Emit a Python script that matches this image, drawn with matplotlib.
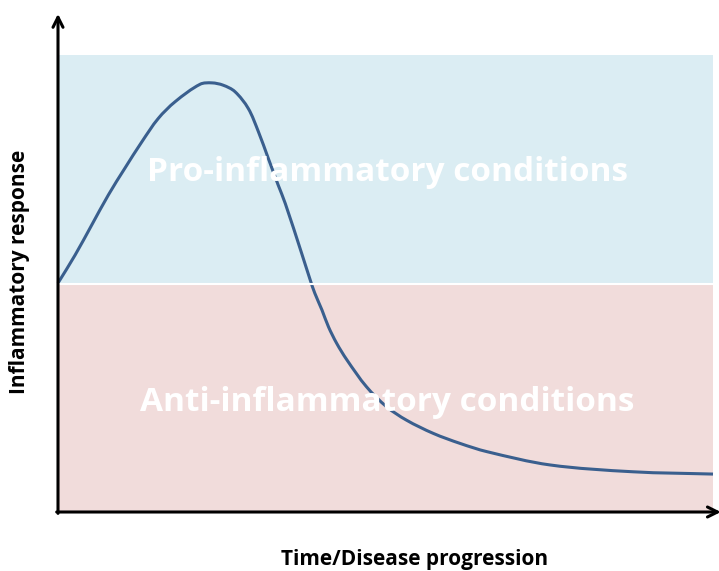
import numpy as np
import matplotlib.pyplot as plt
from matplotlib.path import Path
from matplotlib.patches import PathPatch

# curve (time, response), both on a 0-100 scale
time = [0, 2.6, 5.15, 7.7, 10.2, 12.8, 15.3, 17.9, 21.7, 23.5, 25.2,
        27.0, 29.05, 30.6, 32.1, 33.6, 34.7, 37.2, 38.5, 39.2, 40.3, 41.3,
        42.55, 44.1, 47.1, 50.2, 53.2, 57.3, 61.4, 65.5, 75.1, 87.8, 100]
response = [50.1, 56.2, 62.8, 69.4, 75.2, 81.0, 86.1, 89.8, 93.6, 93.9, 93.4,
            92.0, 88.3, 83.2, 77.4, 71.6, 67.5, 56.6, 50.8, 47.9, 44.2, 40.5,
            36.9, 33.3, 27.4, 23.0, 20.1, 17.2, 15.0, 13.2, 10.3, 8.8, 8.3]

# the two zones
threshold = 50
zone_labels = ["Pro-inflammatory conditions", "Anti-inflammatory conditions"]
zone_colors = ["#dbedf3", "#f1dcdb"]

xlabel = "Time/Disease progression"
ylabel = "Inflammatory response"


def smooth_path(xs, ys):
    """Chord-length Catmull-Rom through the read points, as cubic Bezier pieces."""
    p = np.column_stack([xs, ys]).astype(float)
    # scale y to screen proportions so chord lengths are meaningful
    scale = np.array([6.55, 4.57])
    d = np.linalg.norm(np.diff(p * scale, axis=0), axis=1)
    t = np.concatenate([[0], np.cumsum(d)])
    n = len(p)
    tang = np.zeros_like(p)
    for i in range(n):
        a, b = max(i - 1, 0), min(i + 1, n - 1)
        tang[i] = (p[b] - p[a]) / (t[b] - t[a])
    verts = [tuple(p[0])]
    codes = [Path.MOVETO]
    for i in range(n - 1):
        h = t[i + 1] - t[i]
        verts += [tuple(p[i] + tang[i] * h / 3), tuple(p[i + 1] - tang[i + 1] * h / 3),
                  tuple(p[i + 1])]
        codes += [Path.CURVE4] * 3
    return Path(verts, codes)


fig = plt.figure(figsize=(7.19, 5.71), dpi=100)
ax = fig.add_axes([58 / 719, 59 / 571, 655 / 719, 457 / 571])
ax.set_xlim(0, 100)
ax.set_ylim(0, 100)
ax.axis("off")

# background bands
ax.axhspan(threshold, 100, color=zone_colors[0], lw=0)
ax.axhspan(0, threshold, color=zone_colors[1], lw=0)
ax.axhline(threshold, color="white", lw=1.5)

# zone labels
ax.text(50.3, 74.3, zone_labels[0], color="white", fontsize=24, fontweight="bold",
        family="Open Sans", ha="center", va="center")
ax.text(50.3, 24.0, zone_labels[1], color="white", fontsize=24, fontweight="bold",
        family="Open Sans", ha="center", va="center")

# the response curve
curve = PathPatch(smooth_path(time, response), facecolor="none",
                  edgecolor="#3a5f8e", lw=2.2, clip_on=False)
ax.add_patch(curve)

# axes with arrows
ax.annotate("", xy=(0, 1.09), xytext=(0, -0.003), xycoords="axes fraction",
            arrowprops=dict(arrowstyle="->", lw=2.2, color="black",
                            mutation_scale=18, shrinkA=0, shrinkB=0))
ax.annotate("", xy=(1.012, 0), xytext=(-0.002, 0), xycoords="axes fraction",
            arrowprops=dict(arrowstyle="->", lw=2.2, color="black",
                            mutation_scale=18, shrinkA=0, shrinkB=0))

fig.text(415 / 719, 1 - 560 / 571, xlabel, fontsize=15, fontweight="bold",
         family="Open Sans", ha="center", va="center")
fig.text(20 / 719, 1 - 272 / 571, ylabel, fontsize=15, fontweight="bold",
         family="Open Sans", ha="center", va="center", rotation=90)

fig.savefig("out.png", dpi=100)
